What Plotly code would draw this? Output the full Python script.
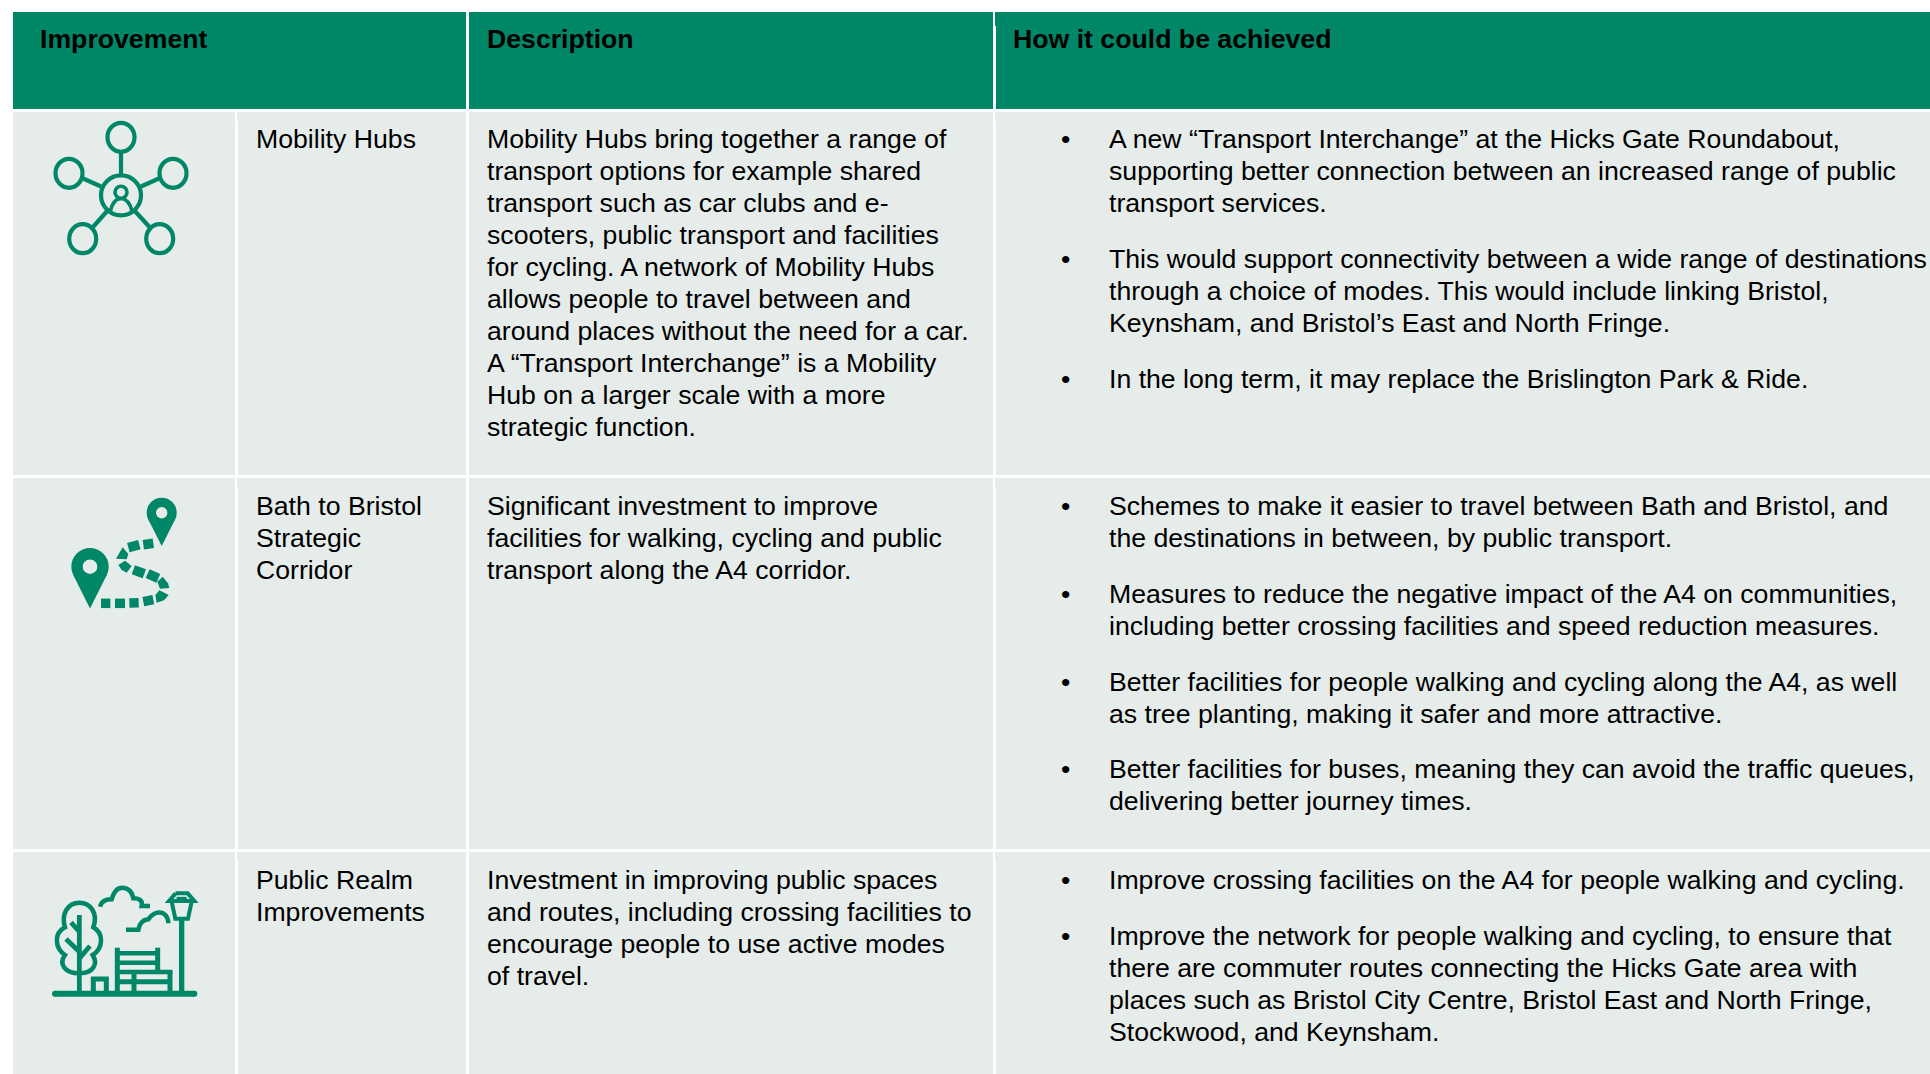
import math
import plotly.graph_objects as go

# ---------- content ----------
HEADERS = ["Improvement", "Description", "How it could be achieved"]
IMPROVEMENTS = [
    ["Mobility Hubs"],
    ["Bath to Bristol", "Strategic", "Corridor"],
    ["Public Realm", "Improvements"],
]
DESCRIPTIONS = [
    ["Mobility Hubs bring together a range of",
     "transport options for example shared",
     "transport such as car clubs and e-",
     "scooters, public transport and facilities",
     "for cycling. A network of Mobility Hubs",
     "allows people to travel between and",
     "around places without the need for a car.",
     "A “Transport Interchange” is a Mobility",
     "Hub on a larger scale with a more",
     "strategic function."],
    ["Significant investment to improve",
     "facilities for walking, cycling and public",
     "transport along the A4 corridor."],
    ["Investment in improving public spaces",
     "and routes, including crossing facilities to",
     "encourage people to use active modes",
     "of travel."],
]
ACHIEVED = [
    [["A new “Transport Interchange” at the Hicks Gate Roundabout,",
      "supporting better connection between an increased range of public",
      "transport services."],
     ["This would support connectivity between a wide range of destinations",
      "through a choice of modes. This would include linking Bristol,",
      "Keynsham, and Bristol’s East and North Fringe."],
     ["In the long term, it may replace the Brislington Park & Ride."]],
    [["Schemes to make it easier to travel between Bath and Bristol, and",
      "the destinations in between, by public transport."],
     ["Measures to reduce the negative impact of the A4 on communities,",
      "including better crossing facilities and speed reduction measures."],
     ["Better facilities for people walking and cycling along the A4, as well",
      "as tree planting, making it safer and more attractive."],
     ["Better facilities for buses, meaning they can avoid the traffic queues,",
      "delivering better journey times."]],
    [["Improve crossing facilities on the A4 for people walking and cycling."],
     ["Improve the network for people walking and cycling, to ensure that",
      "there are commuter routes connecting the Hicks Gate area with",
      "places such as Bristol City Centre, Bristol East and North Fringe,",
      "Stockwood, and Keynsham."]],
]

# ---------- style / layout ----------
GREEN = "#008767"
CELL = "#E6ECEA"
FONT = "Liberation Sans"
SIZE = 26.67
W, H = 1930, 1074
ROWS = [(112, 475), (478, 849), (852, 1074)]
FIRST_LINE = [138.6, 506, 880]
LINE = 32.0
PARA = 23.8

shapes, notes = [], []


def rect(x0, y0, x1, y1, color):
    shapes.append(dict(type="rect", x0=x0, y0=y0, x1=x1, y1=y1, fillcolor=color,
                       line=dict(width=0), layer="below"))


def text(x, y, s, bold=False):
    notes.append(dict(x=x, y=y, text=f"<b>{s}</b>" if bold else s, showarrow=False,
                      xanchor="left", yanchor="middle", align="left", borderpad=0,
                      font=dict(family=FONT, size=SIZE, color="#000000")))


# table
rect(13, 12, 466, 109, GREEN)
rect(469, 12, 993, 109, GREEN)
rect(996, 12, W, 109, GREEN)
for r0, r1 in ROWS:
    rect(13, r0, 235, r1, CELL)
    rect(238, r0, 466, r1, CELL)
    rect(469, r0, 993, r1, CELL)
    rect(996, r0, W, r1, CELL)
    rect(237, r0, 238, r0 + 9, CELL)
    rect(995, r0, 996, r0 + 9, CELL)
rect(995, 12, 996, 26, GREEN)

# text
for x, h in zip([38.8, 486.3, 1012.3], HEADERS):
    text(x, 38.5, h, bold=True)
for i in range(3):
    for k, s in enumerate(IMPROVEMENTS[i]):
        text(254.8, FIRST_LINE[i] + k * LINE, s)
    for k, s in enumerate(DESCRIPTIONS[i]):
        text(486.3, FIRST_LINE[i] + k * LINE, s)
    y = FIRST_LINE[i]
    for p, para in enumerate(ACHIEVED[i]):
        text(1060, y, "•")
        for s in para:
            text(1107.8, y, s)
            y += LINE
        y += PARA + (0.9 if i == 0 and p == 0 else 0)


# ---------- icons ----------
def circle(cx, cy, rx, ry=None, fill=None, line=None, lw=4):
    ry = rx if ry is None else ry
    shapes.append(dict(type="circle", x0=cx - rx, x1=cx + rx, y0=cy - ry, y1=cy + ry,
                       fillcolor=fill or "rgba(0,0,0,0)",
                       line=dict(color=line or GREEN, width=lw if line else 0)))


def seg(x0, y0, x1, y1, w=4, color=GREEN):
    shapes.append(dict(type="line", x0=x0, y0=y0, x1=x1, y1=y1, line=dict(color=color, width=w)))


def path(d, w=4, fill=None):
    shapes.append(dict(type="path", path=d, fillcolor=fill or "rgba(0,0,0,0)",
                       line=dict(color=GREEN, width=w)))


def zpath(cmds, oy, w=4.5, fill=None):
    """cmds: list of (letter, coords...) given in 3x-crop pixels."""
    out = []
    for c in cmds:
        nums = c[1:]
        pts = []
        for j in range(0, len(nums), 2):
            pts.append(f"{nums[j] / 3:.2f},{nums[j + 1] / 3 + oy:.2f}")
        out.append(c[0] + " ".join(pts))
    d = " ".join(out)
    if fill:
        d += " Z"
    path(d, w if not fill else 0, fill)


# hub icon
for cx, cy in [(121, 137.3), (69, 173.3), (173, 173.3), (82.7, 238.7), (159.7, 238.7)]:
    circle(cx, cy, 13.5, 14.5, line=GREEN, lw=4.2)
circle(121, 195.3, 20, line=GREEN, lw=4.2)
circle(121, 192.3, 6, line=GREEN, lw=3.6)
path("M 110.5,211 Q 113,199 121,198.5 Q 129,199 132,211", w=3.6)
seg(121, 153, 121, 174, 4.2)
seg(82, 178, 101, 186.5, 4.2)
seg(160, 178, 141, 186.5, 4.2)
seg(93, 227, 109, 209, 4.2)
seg(149.5, 227, 133, 209, 4.2)


# route icon
def pin(cx, cy, r, tip, hole):
    d = tip - cy
    a = math.acos(r / d)
    dx, dy = r * math.sin(a), r * math.cos(a)
    circle(cx, cy, r, fill=GREEN)
    path(f"M {cx - dx:.2f},{cy + dy:.2f} L {cx},{tip} L {cx + dx:.2f},{cy + dy:.2f} Z", 0, GREEN)
    circle(cx, cy, hole, fill=CELL)


pin(90, 566.7, 18.7, 608.5, 7.3)
pin(161.7, 512.7, 15, 546, 5.7)
for x0, y0, x1, y1 in [(303, 400, 331, 400), (345, 400, 375, 400), (388, 399, 416, 398),
                       (430, 395, 460, 389), (443, 311, 475, 325), (400, 299, 433, 311),
                       (385, 233, 418, 224), (430, 224, 460, 220)]:
    seg(x0 / 3, y0 / 3 + 470, x1 / 3, y1 / 3 + 470, 9.5)
for poly in [[(466, 375), (478, 361), (506, 375), (492, 391), (470, 398)],
             [(472, 335), (488, 320), (504, 340), (508, 354), (480, 356)],
             [(355, 285), (375, 272), (395, 288), (380, 308), (365, 300)],
             [(348, 266), (368, 232), (385, 252), (380, 268)]]:
    cmds = [("M",) + poly[0]] + [("L",) + p for p in poly[1:]]
    zpath(cmds, 470, fill=GREEN)

# park icon (3x-crop coordinates, y offset 840)
OY = 840
zpath([("M", 238, 400), ("C", 195, 400, 175, 372, 195, 345), ("C", 165, 325, 160, 280, 195, 262),
       ("C", 182, 220, 205, 188, 238, 188), ("C", 272, 188, 295, 220, 280, 262),
       ("C", 312, 280, 310, 325, 278, 345), ("C", 295, 372, 280, 400, 238, 400)], OY, 4.5)
for a in [(238, 225, 238, 455), (213, 247, 238, 275), (198, 297, 238, 335), (270, 318, 238, 355)]:
    seg(a[0] / 3, a[1] / 3 + OY, a[2] / 3, a[3] / 3 + OY, 4.8)
seg(165 / 3, 461 / 3 + OY, 583 / 3, 461 / 3 + OY, 6)
circle(165 / 3, 461 / 3 + OY, 3, fill=GREEN)
circle(583 / 3, 461 / 3 + OY, 3, fill=GREEN)
zpath([("M", 300, 200), ("Q", 305, 178, 335, 178), ("Q", 345, 142, 368, 143), ("Q", 395, 145, 400, 175),
       ("Q", 430, 175, 425, 198), ("L", 450, 198)], OY, 4.5)
zpath([("M", 378, 269), ("L", 415, 269), ("Q", 420, 240, 445, 238), ("Q", 465, 210, 490, 220),
       ("Q", 505, 230, 505, 250)], OY, 4.5)
seg(545 / 3, 235 / 3 + OY, 545 / 3, 455 / 3 + OY, 5.3)
zpath([("M", 527, 160), ("L", 563, 160), ("L", 583, 183), ("L", 507, 183), ("L", 527, 160)], OY, 4)
zpath([("M", 515, 185), ("L", 526, 236), ("L", 564, 236), ("L", 575, 185)], OY, 4)
seg(530 / 3, 175 / 3 + OY, 560 / 3, 175 / 3 + OY, 3)
seg(352 / 3, 323 / 3 + OY, 352 / 3, 455 / 3 + OY, 5)
seg(473 / 3, 323 / 3 + OY, 473 / 3, 395 / 3 + OY, 5)
seg(352 / 3, 340 / 3 + OY, 473 / 3, 340 / 3 + OY, 4.5)
seg(352 / 3, 368 / 3 + OY, 473 / 3, 368 / 3 + OY, 4.5)
seg(352 / 3, 396 / 3 + OY, 517 / 3, 396 / 3 + OY, 4.5)
seg(352 / 3, 425 / 3 + OY, 512 / 3, 425 / 3 + OY, 5)
seg(402 / 3, 392 / 3 + OY, 402 / 3, 455 / 3 + OY, 5)
seg(510 / 3, 392 / 3 + OY, 510 / 3, 455 / 3 + OY, 5)
zpath([("M", 280, 455), ("L", 280, 417), ("L", 319, 417), ("L", 319, 455)], OY, 5)

fig = go.Figure()
fig.update_layout(
    width=W, height=H, margin=dict(l=0, r=0, t=0, b=0), showlegend=False,
    paper_bgcolor="white", plot_bgcolor="white",
    xaxis=dict(range=[0, W], visible=False, fixedrange=True),
    yaxis=dict(range=[H, 0], visible=False, fixedrange=True),
    shapes=shapes, annotations=notes,
)
fig.write_html("out.html", config=dict(displayModeBar=False),
               post_script="document.body.style.margin='0';document.body.style.overflow='hidden';")
